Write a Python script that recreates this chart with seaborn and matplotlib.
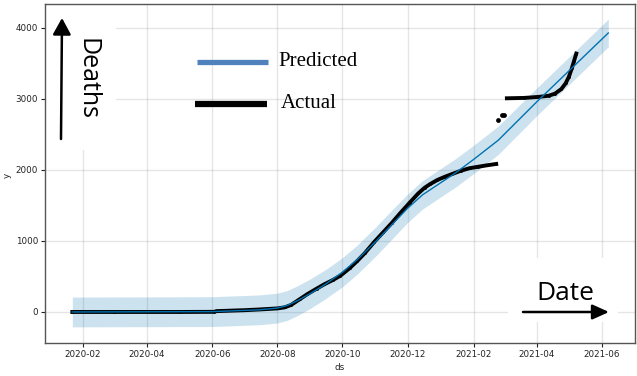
import numpy as np
import pandas as pd
import matplotlib
matplotlib.use("Agg")
import matplotlib.pyplot as plt
import matplotlib.dates as mdates
from matplotlib.patches import Rectangle
import seaborn as sns

# Observed cumulative deaths (first reporting stream)
actual_dates = ["2020-01-22", "2020-03-01", "2020-05-01", "2020-06-03", "2020-06-05",
                "2020-07-01", "2020-07-15", "2020-08-01", "2020-08-08", "2020-08-14",
                "2020-08-22", "2020-08-29", "2020-09-07", "2020-09-14", "2020-09-22",
                "2020-09-29", "2020-10-08", "2020-10-15", "2020-10-22", "2020-10-31",
                "2020-11-08", "2020-11-16", "2020-11-24", "2020-12-03", "2020-12-11",
                "2020-12-17", "2020-12-22", "2020-12-29", "2021-01-05", "2021-01-12",
                "2021-01-20", "2021-01-28", "2021-02-05", "2021-02-13", "2021-02-22"]
actual_values = [0, 0, 0, 2, 12,
                 25, 35, 50, 65, 100,
                 180, 250, 330, 390, 450,
                 510, 620, 720, 830, 990,
                 1120, 1250, 1390, 1540, 1670,
                 1750, 1800, 1860, 1905, 1945,
                 1990, 2025, 2045, 2065, 2085]

# Observed cumulative deaths (revised stream)
jump_dates = ["2021-02-24", "2021-02-27", "2021-03-01"]
jump_values = [2700, 2770, 2780]
late_dates = ["2021-03-04", "2021-03-20", "2021-04-03", "2021-04-12", "2021-04-18",
              "2021-04-24", "2021-04-28", "2021-05-01", "2021-05-04", "2021-05-06",
              "2021-05-08"]
late_values = [3010, 3015, 3030, 3045, 3075,
               3140, 3220, 3310, 3440, 3540,
               3640]

# Model forecast (yhat) with its uncertainty interval
forecast_dates = ["2020-01-22", "2020-06-01", "2020-07-15", "2020-08-01", "2020-08-10",
                  "2020-08-20", "2020-09-01", "2020-09-15", "2020-10-01", "2020-10-15",
                  "2020-11-01", "2020-11-15", "2020-12-01", "2020-12-15", "2021-01-01",
                  "2021-01-15", "2021-02-01", "2021-02-24", "2021-04-01", "2021-06-07"]
forecast_values = [0, 5, 30, 55, 90,
                   160, 260, 390, 560, 740,
                   990, 1210, 1460, 1650, 1820,
                   1960, 2150, 2420, 2960, 3930]
interval_half_width = [210, 210, 210, 210, 210,
                       210, 208, 205, 205, 205,
                       205, 205, 200, 200, 200,
                       200, 200, 200, 195, 195]

x_tick_months = [2, 4, 6, 8, 10, 12]
y_ticks = [0, 1000, 2000, 3000, 4000]

W, H = 637, 376
fig = plt.figure(figsize=(W / 100, H / 100), dpi=100)
ax = fig.add_axes([45 / W, 1 - 343 / H, 590 / W, 339 / H])


def fx(px):
    return px / W


def fy(py):
    return 1 - py / H


fc = pd.DataFrame({"ds": pd.to_datetime(forecast_dates), "yhat": forecast_values,
                   "hw": interval_half_width})
obs = pd.DataFrame({"ds": pd.to_datetime(actual_dates), "y": actual_values})
jump = pd.DataFrame({"ds": pd.to_datetime(jump_dates), "y": jump_values})
late = pd.DataFrame({"ds": pd.to_datetime(late_dates), "y": late_values})

ax.fill_between(fc["ds"], fc["yhat"] - fc["hw"], fc["yhat"] + fc["hw"],
                color="#0072B2", alpha=0.2, linewidth=0, zorder=2)
sns.lineplot(data=obs, x="ds", y="y", ax=ax, color="black", linewidth=2.8,
             marker=".", markersize=4, markeredgewidth=0, zorder=3)
sns.lineplot(data=late, x="ds", y="y", ax=ax, color="black", linewidth=2.8,
             marker=".", markersize=4, markeredgewidth=0, zorder=3)
sns.scatterplot(data=jump, x="ds", y="y", ax=ax, color="black", s=12,
                linewidth=0, zorder=3)
sns.lineplot(data=fc, x="ds", y="yhat", ax=ax, color="#0072B2", linewidth=1.0, zorder=4)

ax.set_xlim(pd.Timestamp("2019-12-27 10:00"), pd.Timestamp("2021-07-02"))
ax.set_ylim(-437, 4338)
ax.xaxis.set_major_locator(mdates.MonthLocator(bymonth=x_tick_months))
ax.xaxis.set_major_formatter(mdates.DateFormatter("%Y-%m"))
ax.set_yticks(y_ticks)
ax.grid(True, which="major", color="gray", linestyle="-", linewidth=1, alpha=0.2)
ax.set_axisbelow(True)
ax.tick_params(labelsize=6.3, length=3, width=0.8, pad=2, colors="#222222")
for s in ax.spines.values():
    s.set_color("#555555")
    s.set_linewidth(1.0)
ax.set_xlabel("")
ax.set_ylabel("")
fig.text(fx(340), fy(368), "ds", fontsize=6.3, ha="center", va="center", color="#222222")
fig.text(fx(7), fy(175), "y", fontsize=6.3, ha="center", va="center", rotation=90,
         color="#222222")

# white panels behind the axis annotations
for (x0, y0, x1, y1) in [(46, 5, 116, 150), (508, 258, 618, 322)]:
    ax.add_patch(Rectangle((fx(x0), fy(y1)), fx(x1) - fx(x0), fy(y0) - fy(y1),
                           transform=fig.transFigure, facecolor="white",
                           edgecolor="none", zorder=1.8, clip_on=False))

# vertical "Deaths" arrow
ax.annotate("", xy=(fx(62), fy(18)), xytext=(fx(61), fy(139)),
            xycoords="figure fraction", textcoords="figure fraction",
            arrowprops=dict(arrowstyle="-|>,head_length=1.0,head_width=0.55",
                            color="black", lw=1.8, shrinkA=0, shrinkB=0), zorder=5)
fig.text(fx(87), fy(79), "Deaths", fontsize=18, rotation=-90, ha="center", va="center",
         family="Open Sans", color="black")

# horizontal "Date" arrow
ax.annotate("", xy=(fx(609), fy(312)), xytext=(fx(523), fy(312)),
            xycoords="figure fraction", textcoords="figure fraction",
            arrowprops=dict(arrowstyle="-|>,head_length=1.0,head_width=0.45",
                            color="black", lw=1.8, shrinkA=0, shrinkB=0), zorder=5)
fig.text(fx(565), fy(293), "Date", fontsize=19, ha="center", va="center",
         family="Open Sans", color="black")

# key for the two series
fig.add_artist(plt.Line2D([fx(197), fx(268)], [fy(62), fy(62)], color="#4F81BD",
                          linewidth=3.8, solid_capstyle="butt"))
fig.add_artist(plt.Line2D([fx(195), fx(267)], [fy(104), fy(104)], color="black",
                          linewidth=4.5, solid_capstyle="butt"))
fig.text(fx(278), fy(62), "Predicted", fontsize=15, ha="left", va="center",
         family="Liberation Serif", color="black")
fig.text(fx(281), fy(103), "Actual", fontsize=15, ha="left", va="center",
         family="Liberation Serif", color="black")

fig.savefig("out.png", dpi=100)
